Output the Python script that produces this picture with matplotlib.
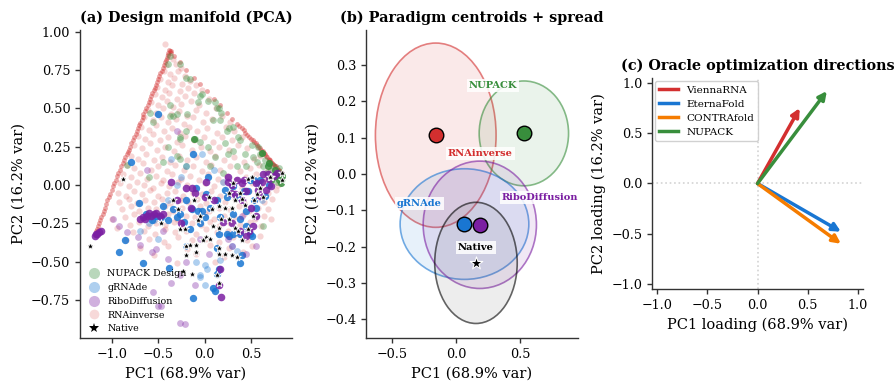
import numpy as np
import matplotlib
matplotlib.use("Agg")
import matplotlib.pyplot as plt
from matplotlib.patches import Ellipse
from matplotlib.lines import Line2D

plt.rcParams["font.family"] = ["DejaVu Serif"]
plt.rcParams["axes.linewidth"] = 1.0
plt.rcParams["axes.edgecolor"] = "#333333"

RED = "#d32f2f"
BLUE = "#1976d2"
PURPLE = "#7b1fa2"
GREEN = "#388e3c"
ORANGE = "#f57c00"

# ---- panel (a): PCA projection of designed sequences ----
rnainv_cloud = np.array([
    (-0.43, 0.92), (-0.40, 0.84), (-0.34, 0.82), (-0.42, 0.78), (-0.31, 0.79), (-0.26, 0.76), (-0.44, 0.74),
    (-0.37, 0.72), (-0.29, 0.74), (-0.21, 0.71), (-0.48, 0.69), (-0.40, 0.67), (-0.33, 0.70), (-0.24, 0.66),
    (-0.16, 0.68), (-0.51, 0.64), (-0.43, 0.62), (-0.35, 0.65), (-0.27, 0.61), (-0.18, 0.63), (-0.09, 0.65),
    (-0.54, 0.59), (-0.46, 0.57), (-0.38, 0.60), (-0.30, 0.56), (-0.21, 0.58), (-0.12, 0.60), (-0.03, 0.62),
    (-0.58, 0.54), (-0.50, 0.52), (-0.41, 0.55), (-0.34, 0.51), (-0.25, 0.53), (-0.15, 0.55), (-0.06, 0.52),
    (0.05, 0.56), (-0.61, 0.49), (-0.53, 0.47), (-0.45, 0.50), (-0.36, 0.46), (-0.28, 0.48), (-0.19, 0.45),
    (-0.09, 0.49), (0.02, 0.47), (0.12, 0.50), (-0.65, 0.44), (-0.56, 0.42), (-0.47, 0.44), (-0.40, 0.41),
    (-0.31, 0.43), (-0.22, 0.40), (-0.13, 0.44), (-0.02, 0.41), (0.08, 0.43), (0.19, 0.45), (0.27, 0.41),
    (-0.69, 0.38), (-0.60, 0.36), (-0.52, 0.39), (-0.44, 0.35), (-0.35, 0.37), (-0.27, 0.34), (-0.17, 0.38),
    (-0.08, 0.35), (0.03, 0.37), (0.13, 0.34), (0.23, 0.38), (0.32, 0.35), (-0.72, 0.32), (-0.64, 0.30),
    (-0.56, 0.33), (-0.48, 0.29), (-0.39, 0.31), (-0.30, 0.28), (-0.21, 0.32), (-0.11, 0.29), (-0.01, 0.31),
    (0.09, 0.28), (0.19, 0.31), (0.29, 0.29), (0.40, 0.31), (-0.76, 0.26), (-0.68, 0.24), (-0.59, 0.27),
    (-0.51, 0.23), (-0.43, 0.25), (-0.33, 0.22), (-0.24, 0.26), (-0.14, 0.23), (-0.04, 0.25), (0.06, 0.22),
    (0.16, 0.25), (0.26, 0.23), (0.36, 0.26), (0.46, 0.24), (-0.80, 0.19), (-0.72, 0.17), (-0.63, 0.20),
    (-0.55, 0.16), (-0.46, 0.18), (-0.37, 0.15), (-0.28, 0.19), (-0.19, 0.16), (-0.09, 0.18), (0.01, 0.15),
    (0.11, 0.19), (0.21, 0.16), (0.32, 0.18), (0.42, 0.15), (0.53, 0.17), (0.60, 0.19), (-0.84, 0.13),
    (-0.76, 0.11), (-0.67, 0.14), (-0.58, 0.10), (-0.50, 0.12), (-0.41, 0.09), (-0.32, 0.13), (-0.22, 0.10),
    (-0.13, 0.12), (-0.03, 0.09), (0.07, 0.13), (0.17, 0.10), (0.27, 0.12), (0.38, 0.09), (0.49, 0.11),
    (0.59, 0.13), (0.68, 0.10), (-0.88, 0.07), (-0.79, 0.05), (-0.70, 0.08), (-0.62, 0.04), (-0.53, 0.06),
    (-0.45, 0.03), (-0.35, 0.07), (-0.26, 0.04), (-0.16, 0.06), (-0.06, 0.03), (0.04, 0.07), (0.14, 0.04),
    (0.24, 0.06), (0.34, 0.03), (0.45, 0.05), (0.55, 0.07), (0.66, 0.04), (0.74, 0.06), (-0.91, 0.01),
    (-0.82, -0.01), (-0.73, 0.02), (-0.65, 0.00), (-0.56, -0.02), (-0.47, 0.01), (-0.38, -0.01), (-0.29, 0.02),
    (-0.19, 0.00), (-0.10, -0.02), (0.00, 0.01), (0.10, -0.01), (0.20, 0.02), (0.30, 0.00), (0.40, -0.02),
    (0.51, 0.01), (0.61, -0.01), (0.70, 0.02), (0.79, 0.00), (-0.94, -0.05), (-0.85, -0.07), (-0.76, -0.04),
    (-0.68, -0.06), (-0.59, -0.03), (-0.50, -0.07), (-0.41, -0.05), (-0.32, -0.04), (-0.23, -0.07), (-0.13, -0.05),
    (-0.03, -0.06), (0.07, -0.04), (0.17, -0.07), (0.27, -0.05), (0.37, -0.06), (0.48, -0.04), (0.58, -0.07),
    (0.68, -0.05), (0.77, -0.03), (-0.92, -0.11), (-0.82, -0.09), (-0.73, -0.12), (-0.64, -0.10), (-0.55, -0.11),
    (-0.46, -0.09), (-0.37, -0.12), (-0.27, -0.10), (-0.18, -0.11), (-0.08, -0.09), (0.02, -0.12), (0.12, -0.10),
    (0.22, -0.11), (0.33, -0.09), (0.43, -0.12), (0.54, -0.10), (0.64, -0.11), (0.73, -0.09), (-0.89, -0.16),
    (-0.80, -0.14), (-0.71, -0.17), (-0.61, -0.15), (-0.52, -0.16), (-0.43, -0.14), (-0.34, -0.17), (-0.24, -0.15),
    (-0.15, -0.16), (-0.05, -0.14), (0.05, -0.17), (0.15, -0.15), (0.26, -0.16), (0.37, -0.14), (0.48, -0.17),
    (0.58, -0.15), (0.68, -0.16), (-0.86, -0.21), (-0.76, -0.19), (-0.67, -0.22), (-0.57, -0.20), (-0.48, -0.21),
    (-0.39, -0.19), (-0.30, -0.22), (-0.20, -0.20), (-0.10, -0.21), (0.00, -0.19), (0.10, -0.22), (0.21, -0.20),
    (0.32, -0.21), (0.43, -0.19), (0.54, -0.22), (0.64, -0.20), (-0.81, -0.26), (-0.71, -0.24), (-0.61, -0.27),
    (-0.52, -0.25), (-0.43, -0.26), (-0.33, -0.24), (-0.24, -0.27), (-0.14, -0.25), (-0.04, -0.26), (0.06, -0.24),
    (0.16, -0.27), (0.27, -0.25), (0.38, -0.26), (0.49, -0.24), (0.61, -0.27), (-0.77, -0.31), (-0.65, -0.30),
    (-0.54, -0.32), (-0.43, -0.29), (-0.32, -0.31), (-0.20, -0.30), (-0.09, -0.32), (0.02, -0.29), (0.13, -0.31),
    (0.25, -0.30), (0.37, -0.32), (0.48, -0.30), (-0.85, -0.36), (-0.60, -0.35), (-0.44, -0.37), (-0.29, -0.34),
    (-0.14, -0.36), (0.01, -0.35), (0.16, -0.37), (0.31, -0.34), (0.46, -0.36), (-0.70, -0.41), (-0.39, -0.40),
    (-0.19, -0.42), (0.06, -0.39), (0.26, -0.41), (0.51, -0.40), (-0.55, -0.46), (-0.09, -0.45), (0.21, -0.47),
    (0.41, -0.44), (-0.30, -0.51), (0.11, -0.50), (0.60, -0.33), (0.72, -0.22), (-0.95, -0.28), (-1.00, -0.22),
])
# designs collapsed onto the two boundary ridges of the manifold
rnainv_ridge = np.array([
    (-1.17, -0.30), (-1.15, -0.27), (-1.13, -0.23), (-1.10, -0.19), (-1.08, -0.15), (-1.05, -0.10), (-1.02, -0.06),
    (-0.99, -0.01), (-0.96, 0.03), (-0.93, 0.08), (-0.90, 0.12), (-0.87, 0.16), (-0.84, 0.20), (-0.82, 0.23),
    (-0.79, 0.27), (-0.76, 0.31), (-0.73, 0.35), (-0.71, 0.39), (-0.68, 0.42), (-0.66, 0.46), (-0.63, 0.50),
    (-0.60, 0.54), (-0.58, 0.58), (-0.55, 0.62), (-0.53, 0.65), (-0.50, 0.69), (-0.48, 0.73), (-0.45, 0.76),
    (-0.43, 0.80), (-0.41, 0.83), (-0.39, 0.86), (-0.37, 0.87), (-0.36, 0.86), (-0.38, 0.88), (-0.36, 0.875),
    (-1.16, -0.285), (-1.14, -0.25), (-1.115, -0.21), (-1.09, -0.17), (-1.065, -0.125), (-1.035, -0.08),
    (-1.005, -0.035), (-0.975, 0.01), (-0.945, 0.055), (-0.915, 0.10), (-0.885, 0.14), (-0.855, 0.18),
    (-0.83, 0.215), (-0.805, 0.25), (-0.775, 0.29), (-0.745, 0.33), (-0.72, 0.37), (-0.695, 0.405),
    (-0.67, 0.44), (-0.645, 0.48), (-0.615, 0.52), (-0.59, 0.56), (-0.565, 0.60), (-0.54, 0.635),
    (-0.515, 0.67), (-0.49, 0.71), (-0.465, 0.745), (-0.44, 0.78), (-0.42, 0.815), (-0.40, 0.845),
    (-0.33, 0.84), (-0.27, 0.80), (-0.20, 0.75), (-0.12, 0.70), (-0.05, 0.66), (0.03, 0.61), (0.10, 0.56),
    (0.17, 0.52), (0.24, 0.47), (0.30, 0.43), (0.35, 0.40), (0.40, 0.37), (0.44, 0.34), (0.48, 0.31),
    (0.52, 0.29), (0.55, 0.27), (0.58, 0.25), (0.61, 0.23), (0.64, 0.21), (0.66, 0.19), (0.69, 0.17),
    (0.71, 0.16), (0.73, 0.14), (0.75, 0.13), (0.77, 0.12), (0.79, 0.10), (0.81, 0.09), (0.83, 0.08),
    (0.375, 0.385), (0.42, 0.355), (0.46, 0.325), (0.50, 0.30), (0.535, 0.28), (0.565, 0.26), (0.595, 0.24),
    (0.625, 0.22), (0.65, 0.20), (0.675, 0.18), (0.70, 0.165), (0.72, 0.15), (0.74, 0.135), (0.76, 0.125),
    (0.78, 0.11), (0.80, 0.095), (0.82, 0.085),
])
nupack_faint = np.array([
    (-0.37, 0.84), (-0.40, 0.79), (-0.27, 0.79), (-0.20, 0.70), (-0.16, 0.69), (-0.59, 0.47), (-0.37, 0.52),
    (-0.30, 0.46), (-0.37, 0.45), (-0.20, 0.35), (-0.56, 0.41), (-0.40, 0.25), (-0.27, 0.30), (-0.30, 0.19),
    (-0.27, 0.17), (-0.84, 0.13), (-0.20, 0.12), (-0.05, 0.58), (0.04, 0.55), (0.13, 0.50), (-0.19, 0.46),
    (-0.34, 0.45), (0.17, 0.42), (0.24, 0.35), (0.38, 0.29), (-0.27, 0.31), (-0.05, 0.28), (0.06, 0.12),
    (0.31, 0.22), (0.52, 0.18), (0.60, 0.20), (0.63, 0.12), (0.45, 0.12), (0.63, -0.27), (-0.03, 0.59),
    (-0.07, 0.54), (0.11, 0.54), (0.15, 0.50), (0.18, 0.47), (0.09, 0.42), (-0.10, 0.30), (0.26, 0.37),
    (0.31, 0.38), (0.36, 0.31), (0.22, 0.27), (0.04, 0.25), (0.11, 0.18), (0.25, 0.20), (0.44, 0.20),
    (0.51, 0.26), (0.58, 0.25), (0.62, 0.21), (0.56, 0.15), (0.65, 0.16), (0.69, 0.14), (0.74, 0.12),
    (0.76, 0.07), (0.80, 0.05), (0.81, 0.08), (0.70, 0.05), (0.66, 0.08), (0.72, 0.10), (0.78, 0.02),
    (0.83, 0.04), (0.80, 0.11), (0.35, 0.12), (0.20, 0.08), (-0.45, 0.15), (-0.60, 0.05),
])
nupack_strong = np.array([
    (0.62, 0.21), (0.80, 0.03), (0.78, 0.07), (0.72, 0.03), (0.76, 0.10), (0.83, 0.06), (0.82, 0.01),
    (0.74, 0.05), (0.68, 0.12), (-0.12, 0.30), (0.70, 0.14),
])
grnade_faint = np.array([
    (-0.55, -0.23), (-0.20, -0.40), (0.00, -0.52), (-0.05, -0.60), (0.00, -0.65), (-0.03, 0.20), (-0.30, 0.00),
    (0.35, -0.43), (0.20, 0.02), (-0.70, -0.30), (-0.50, -0.35), (0.50, -0.15), (-0.09, -0.50), (-0.05, -0.59),
    (-0.20, -0.40), (0.17, -0.49), (-0.40, -0.10), (0.10, 0.10), (-0.25, 0.05), (0.30, -0.40), (0.62, -0.10),
    (-0.60, -0.25), (-0.36, 0.17), (-0.20, 0.12), (0.03, -0.55),
])
grnade_strong = np.array([
    (-0.80, 0.15), (-0.13, 0.20), (-0.71, -0.12), (-0.45, -0.14), (-0.27, -0.19), (-0.34, -0.16), (-0.07, -0.17),
    (0.06, -0.15), (0.17, -0.21), (0.31, -0.19), (0.45, -0.17), (0.53, -0.10), (0.60, 0.03), (0.53, 0.03),
    (0.42, -0.04), (0.31, -0.01), (0.24, -0.08), (0.13, -0.10), (0.02, -0.06), (-0.20, -0.10), (-0.09, -0.02),
    (-0.57, -0.23), (-0.39, -0.23), (-0.63, -0.19), (-0.86, -0.36), (-0.92, -0.44), (-0.66, -0.51), (-0.38, -0.54),
    (-0.13, -0.74), (0.09, -0.67), (0.13, -0.58), (0.38, -0.32), (0.31, -0.32), (0.49, -0.32), (-0.05, -0.25),
    (0.24, -0.32), (0.40, -0.46), (0.38, -0.51), (0.13, -0.41), (0.15, -0.55), (0.11, -0.69), (0.51, -0.33),
    (0.45, -0.27), (0.26, -0.33), (0.38, -0.22), (0.15, -0.32), (-0.03, -0.17), (-0.14, -0.16), (-0.16, -0.29),
    (0.04, 0.05), (0.22, -0.03), (0.47, -0.04), (0.49, 0.03), (0.65, -0.07), (0.58, 0.01), (0.70, 0.00),
    (0.55, -0.15), (-0.52, -0.20), (-0.47, -0.21), (-0.30, -0.21), (-0.22, -0.24), (0.00, -0.21), (0.35, -0.08),
    (-0.50, 0.46),
])
ribo_faint = np.array([
    (-0.99, -0.22), (-0.92, -0.27), (-0.84, -0.31), (-0.72, -0.34), (-0.70, -0.39), (-0.52, -0.42), (-0.57, -0.44),
    (-0.39, -0.48), (-0.36, -0.64), (-0.27, -0.59), (-0.56, -0.70), (-0.50, -0.79), (-0.27, -0.90), (-0.21, -0.91),
    (-0.47, -0.79), (-0.05, -0.35), (0.05, -0.45), (-0.10, -0.65), (0.30, -0.40), (0.45, -0.45), (0.25, -0.35),
    (0.55, -0.40), (-0.20, -0.50), (0.40, -0.20), (-0.45, -0.30), (-0.62, 0.10), (-0.30, 0.35),
])
ribo_strong = np.array([
    (-1.18, -0.33), (-1.16, -0.32), (-1.14, -0.31), (-1.12, -0.30), (-1.17, -0.32),
    (-0.70, -0.22), (-0.66, -0.21), (-0.62, -0.20), (-0.58, -0.20), (-0.55, -0.19), (-0.52, -0.18), (-0.48, -0.20),
    (-0.45, -0.19), (-0.64, -0.22), (-0.60, -0.18), (0.25, 0.02), (0.30, 0.00), (0.35, 0.03), (0.28, -0.05),
    (0.55, 0.01), (0.62, 0.02), (0.70, 0.04), (0.75, 0.06), (0.72, -0.01), (0.66, -0.03), (0.60, -0.07),
    (0.45, -0.04), (0.40, -0.10), (0.50, -0.15), (0.55, -0.20), (0.48, -0.30), (0.45, -0.33), (0.38, -0.30),
    (0.30, -0.25), (0.20, -0.24), (0.10, -0.10), (0.00, -0.08), (-0.10, -0.05), (-0.20, -0.02), (-0.30, -0.10),
    (-0.15, -0.15), (-0.36, 0.02), (-0.25, -0.25), (0.17, -0.55), (0.18, -0.73), (0.16, -0.65), (0.25, 0.05),
    (0.02, 0.02), (0.68, 0.07), (0.78, 0.08), (0.58, -0.03), (0.33, -0.06), (0.52, -0.27), (0.40, 0.01),
    (0.43, 0.03), (0.63, 0.07), (-0.14, -0.02),
])
native_pts = np.array([
    (-1.24, -0.40), (-0.88, 0.04), (-0.47, -0.25), (-0.27, -0.29), (-0.34, -0.10), (-0.29, -0.16), (-0.20, -0.40),
    (-0.23, -0.56), (-0.20, -0.46), (0.31, 0.01), (0.47, 0.04), (0.60, -0.02), (0.63, -0.08), (0.53, -0.10),
    (0.40, -0.09), (0.33, -0.10), (0.29, -0.15), (0.22, -0.15), (0.15, -0.14), (0.08, -0.16), (-0.05, -0.20),
    (-0.07, -0.23), (-0.21, -0.29), (0.18, -0.22), (0.26, -0.22), (0.33, -0.28), (0.36, -0.30), (0.15, -0.28),
    (0.09, -0.27), (0.47, -0.29), (0.02, -0.34), (-0.02, -0.36), (0.06, -0.35), (-0.16, -0.39), (-0.09, -0.39),
    (-0.09, -0.44), (0.15, -0.41), (0.15, -0.45), (0.22, -0.45), (0.29, -0.46), (0.35, -0.47), (-0.14, -0.58),
    (0.13, -0.59), (0.15, -0.64), (0.72, 0.05), (0.83, 0.03), (0.51, 0.05), (0.71, 0.05), (0.83, 0.08),
    (0.38, -0.05), (0.26, -0.05), (0.44, -0.13), (0.57, -0.06), (0.05, -0.08), (-0.12, -0.10), (0.40, -0.36),
    (0.52, -0.20),
])

# ---- panel (b): centroid and spread per paradigm ----
paradigms = ["RNAinverse", "NUPACK", "gRNAde", "RiboDiffusion", "Native"]
cen_pc1 = [-0.16, 0.53, 0.065, 0.185, 0.155]
cen_pc2 = [0.107, 0.112, -0.138, -0.14, -0.245]
spread_pc1 = [0.945, 0.70, 1.008, 0.887, 0.646]   # full ellipse width
spread_pc2 = [0.508, 0.289, 0.305, 0.351, 0.334]  # full ellipse height
paradigm_colors = [RED, GREEN, BLUE, PURPLE, "#555555"]
label_xy = {"RNAinverse": (0.19, 0.057), "NUPACK": (0.29, 0.245), "gRNAde": (-0.29, -0.081),
            "RiboDiffusion": (0.655, -0.064), "Native": (0.153, -0.202)}

# ---- panel (c): oracle loadings on PC1/PC2 ----
oracles = ["ViennaRNA", "EternaFold", "CONTRAfold", "NUPACK"]
load_pc1 = [0.42, 0.83, 0.83, 0.69]
load_pc2 = [0.75, -0.48, -0.60, 0.92]
oracle_colors = [RED, BLUE, ORANGE, GREEN]

fig = plt.figure(figsize=(8.96, 3.81), dpi=100)
ax1 = fig.add_axes([0.0893, 0.1129, 0.2366, 0.8084])
ax2 = fig.add_axes([0.4085, 0.1129, 0.2366, 0.8084])
ax3 = fig.add_axes([0.7277, 0.2415, 0.2355, 0.5538])

for ax in (ax1, ax2, ax3):
    ax.spines["top"].set_visible(False)
    ax.spines["right"].set_visible(False)
    ax.tick_params(labelsize=9.2, length=3.5, width=1.0, color="#333333")

# (a)
ax1.scatter(rnainv_cloud[:, 0], rnainv_cloud[:, 1], s=20, color=RED, alpha=0.2, lw=0)
ax1.scatter(rnainv_ridge[:, 0], rnainv_ridge[:, 1], s=12, color=RED, alpha=0.42, lw=0)
ax1.scatter(nupack_faint[:, 0], nupack_faint[:, 1], s=24, color=GREEN, alpha=0.38, lw=0)
ax1.scatter(nupack_strong[:, 0], nupack_strong[:, 1], s=26, color=GREEN, alpha=0.85, lw=0)
ax1.scatter(grnade_faint[:, 0], grnade_faint[:, 1], s=24, color=BLUE, alpha=0.35, lw=0)
ax1.scatter(grnade_strong[:, 0], grnade_strong[:, 1], s=28, color=BLUE, alpha=0.85, lw=0)
ax1.scatter(ribo_faint[:, 0], ribo_faint[:, 1], s=24, color=PURPLE, alpha=0.35, lw=0)
ax1.scatter(ribo_strong[:, 0], ribo_strong[:, 1], s=30, color=PURPLE, alpha=0.85, lw=0)
ax1.scatter(native_pts[:, 0], native_pts[:, 1], s=34, marker="*", color="black",
            edgecolor="white", linewidth=0.6, zorder=5)
ax1.set_xlim(-1.345, 0.943)
ax1.set_ylim(-0.998, 1.01)
ax1.set_xticks([-1.0, -0.5, 0.0, 0.5])
ax1.set_xlabel("PC1 (68.9% var)", fontsize=10.5)
ax1.set_ylabel("PC2 (16.2% var)", fontsize=10.5)
ax1.set_title("(a) Design manifold (PCA)", fontsize=10.4, fontweight="bold")
handles = [
    Line2D([], [], ls="", marker="o", ms=8, color=GREEN, alpha=0.35, mew=0),
    Line2D([], [], ls="", marker="o", ms=8, color=BLUE, alpha=0.35, mew=0),
    Line2D([], [], ls="", marker="o", ms=8, color=PURPLE, alpha=0.35, mew=0),
    Line2D([], [], ls="", marker="o", ms=7, color=RED, alpha=0.18, mew=0),
    Line2D([], [], ls="", marker="*", ms=7, color="black", mew=0),
]
ax1.legend(handles, ["NUPACK Design", "gRNAde", "RiboDiffusion", "RNAinverse", "Native"],
           loc="lower left", frameon=False, fontsize=6.8, handletextpad=0.4,
           labelspacing=0.5, borderaxespad=0.2, borderpad=0.3)

# (b)
for name, cx, cy, w, h, c in zip(paradigms, cen_pc1, cen_pc2, spread_pc1, spread_pc2, paradigm_colors):
    edge = "black" if name == "Native" else c
    ax2.add_patch(Ellipse((cx, cy), w, h, facecolor=c, alpha=0.1, lw=0))
    ax2.add_patch(Ellipse((cx, cy), w, h, facecolor="none", edgecolor=edge, alpha=0.6, lw=1.2))
    if name == "Native":
        ax2.scatter(cx, cy, s=90, marker="*", color="black", edgecolor="white", lw=0.8, zorder=6)
    else:
        ax2.scatter(cx, cy, s=110, color=c, edgecolor="black", lw=1.0, zorder=6)
    lx, ly = label_xy[name]
    ax2.text(lx, ly, name, ha="center", va="center", fontsize=7.1, fontweight="bold",
             color="black" if name == "Native" else c, zorder=7,
             bbox=dict(boxstyle="square,pad=0.2", fc="white", ec="none", alpha=0.85))
ax2.set_xlim(-0.706, 0.954)
ax2.set_ylim(-0.452, 0.397)
ax2.set_xticks([-0.5, 0.0, 0.5])
ax2.set_xlabel("PC1 (68.9% var)", fontsize=10.5)
ax2.set_ylabel("PC2 (16.2% var)", fontsize=10.5)
ax2.set_title("(b) Paradigm centroids + spread", fontsize=10.4, fontweight="bold")

# (c)
ax3.axhline(0, color="lightgray", ls=":", lw=1.2, zorder=0)
ax3.axvline(0, color="lightgray", ls=":", lw=1.2, zorder=0)
for name, lx, ly, c in zip(oracles, load_pc1, load_pc2, oracle_colors):
    ax3.annotate("", xy=(lx, ly), xytext=(0, 0),
                 arrowprops=dict(arrowstyle="-|>", color=c, lw=2.5, mutation_scale=12,
                                 shrinkA=0, shrinkB=0))
ax3.legend([Line2D([], [], color=c, lw=2.5) for c in oracle_colors], oracles,
           loc="upper left", fontsize=7.5, handlelength=1.8, labelspacing=0.45,
           borderaxespad=0.3, framealpha=0.9)
ax3.set_xlim(-1.05, 1.05)
ax3.set_ylim(-1.05, 1.05)
ax3.set_xticks([-1.0, -0.5, 0.0, 0.5, 1.0])
ax3.set_yticks([-1.0, -0.5, 0.0, 0.5, 1.0])
ax3.set_xlabel("PC1 loading (68.9% var)", fontsize=10.5)
ax3.set_ylabel("PC2 loading (16.2% var)", fontsize=10.5)
ax3.set_title("(c) Oracle optimization directions", fontsize=10.4, fontweight="bold")

fig.savefig("out.png", dpi=100)
